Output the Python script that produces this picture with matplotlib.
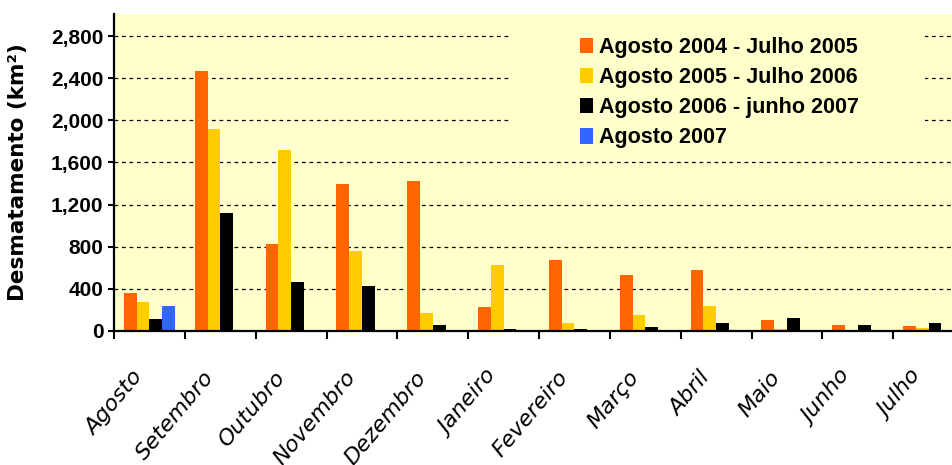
import matplotlib
matplotlib.use("Agg")
import matplotlib.pyplot as plt
import numpy as np
from matplotlib.patches import Rectangle
from matplotlib.ticker import FuncFormatter
from matplotlib.transforms import ScaledTranslation

meses = ["Agosto", "Setembro", "Outubro", "Novembro", "Dezembro", "Janeiro",
         "Fevereiro", "Março", "Abril", "Maio", "Junho", "Julho"]

serie_2004_2005 = [358, 2471, 829, 1392, 1427, 225, 674, 529, 576, 101, 57, 47]
serie_2005_2006 = [272, 1914, 1718, 756, 174, 626, 79, 152, 237, 16, 6, 28]
serie_2006_2007 = [111, 1123, 465, 430, 54, 16, 16, 41, 76, 126, 54, 76]
serie_2007 = [237]

nomes = ["Agosto 2004 - Julho 2005", "Agosto 2005 - Julho 2006",
         "Agosto 2006 - junho 2007", "Agosto 2007"]
cores = ["#FF6600", "#FFCC00", "#000000", "#3366FF"]
fundo = "#FFFFCC"

plt.rcParams["font.family"] = ["DejaVu Sans"]

fig = plt.figure(figsize=(9.52, 4.65), dpi=100)
# plot area runs past the right edge of the picture, as in the original
ax = fig.add_axes([114 / 952, 1 - 331 / 465, 850 / 952, 317 / 465])
ax.set_facecolor(fundo)

x = np.arange(len(meses)) + 0.5
w = 0.18
series = [serie_2004_2005, serie_2005_2006, serie_2006_2007, serie_2007]
for i, (vals, nome, cor) in enumerate(zip(series, nomes, cores)):
    xs = x[:len(vals)] + (i - 1.5) * w
    ax.bar(xs, vals, width=w, color=cor, label=nome, zorder=3)

ax.set_xlim(0, 12)
ax.set_ylim(0, 3009)
ax.set_yticks(np.arange(0, 2801, 400))
ax.yaxis.set_major_formatter(FuncFormatter(lambda v, p: "{:,.0f}".format(v)))
for lbl in ax.get_yticklabels():
    lbl.set_fontweight("bold")
    lbl.set_family(["Liberation Sans", "DejaVu Sans"])
ax.tick_params(axis="y", labelsize=15, length=4.5, width=1.5, pad=3)

ax.set_xticks(np.arange(0, 13))
ax.set_xticklabels([])
ax.set_xticks(x, minor=True)
ax.set_xticklabels(meses, minor=True, rotation=50, ha="right", va="center",
                   rotation_mode="anchor", fontsize=16, style="italic")
ax.tick_params(axis="x", which="major", length=6, width=1.5)
ax.tick_params(axis="x", which="minor", length=0, pad=31)
shift = ScaledTranslation(-10 / 100, 0, fig.dpi_scale_trans)
for lbl in ax.get_xticklabels(minor=True):
    lbl.set_transform(lbl.get_transform() + shift)

for yv in np.arange(400, 2801, 400):
    ax.axhline(yv, color="black", lw=0.9, ls=(0, (3, 3)), zorder=1)

for s in ["top", "right"]:
    ax.spines[s].set_visible(False)
for s in ["left", "bottom"]:
    ax.spines[s].set_linewidth(1.6)
    ax.spines[s].set_zorder(4)

ax.set_ylabel("Desmatamento (km²)", fontsize=15.5, fontweight="bold")
ax.yaxis.set_label_coords((28 - 114) / 850, 0.5)

# legend area hides the grid lines behind it
box = Rectangle(((511 - 114) / 850, (331 - 150) / 317), 414 / 850, 130 / 317,
                transform=ax.transAxes, facecolor=fundo, edgecolor="none", zorder=2)
ax.add_patch(box)

leg = ax.legend(loc="upper left", bbox_to_anchor=(580 / 952, 1 - 37 / 465),
                bbox_transform=fig.transFigure, frameon=False, borderpad=0,
                borderaxespad=0,
                prop={"weight": "bold", "size": 15.5,
                      "family": ["Liberation Sans", "DejaVu Sans"]},
                handlelength=0.6, handleheight=0.75, handletextpad=0.3,
                labelspacing=0.42)
leg.set_zorder(5)

fig.savefig("out.png", dpi=100)
